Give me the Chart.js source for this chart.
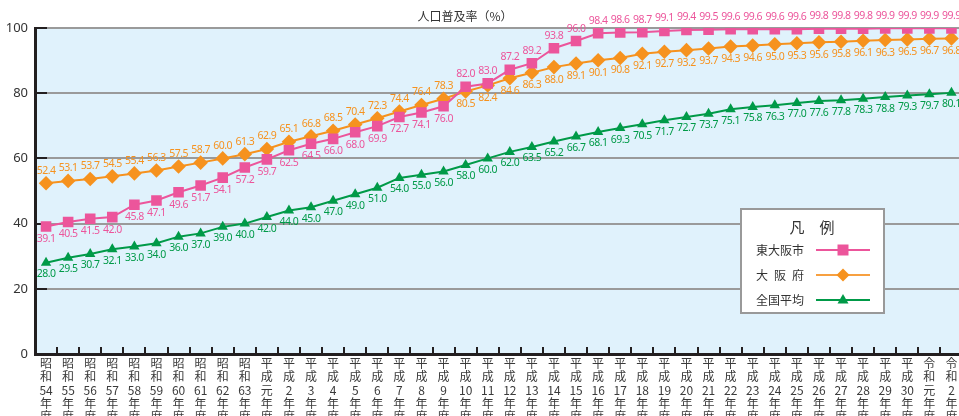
<!DOCTYPE html>
<html><head><meta charset="utf-8">
<script src="https://cdn.jsdelivr.net/npm/chart.js@4/dist/chart.umd.min.js"></script>
<style>
html,body{margin:0;padding:0;overflow:hidden;background:#fff;width:959px;height:416px}
#wrap{position:relative;width:970px;height:416px}
</style></head>
<body><div id="wrap"><canvas id="c" width="970" height="416"></canvas></div>
<script>
const categories = [
  '昭和54年度','昭和55年度','昭和56年度','昭和57年度','昭和58年度','昭和59年度','昭和60年度','昭和61年度','昭和62年度','昭和63年度',
  '平成元年度','平成2年度','平成3年度','平成4年度','平成5年度','平成6年度','平成7年度','平成8年度','平成9年度','平成10年度',
  '平成11年度','平成12年度','平成13年度','平成14年度','平成15年度','平成16年度','平成17年度','平成18年度','平成19年度','平成20年度',
  '平成21年度','平成22年度','平成23年度','平成24年度','平成25年度','平成26年度','平成27年度','平成28年度','平成29年度','平成30年度',
  '令和元年度','令和2年度'
];
const higashiOsaka = [39.1,40.5,41.5,42.0,45.8,47.1,49.6,51.7,54.1,57.2,59.7,62.5,64.5,66.0,68.0,69.9,72.7,74.1,76.0,82.0,83.0,87.2,89.2,93.8,96.0,98.4,98.6,98.7,99.1,99.4,99.5,99.6,99.6,99.6,99.6,99.8,99.8,99.8,99.9,99.9,99.9,99.9];
const osakaFu = [52.4,53.1,53.7,54.5,55.4,56.3,57.5,58.7,60.0,61.3,62.9,65.1,66.8,68.5,70.4,72.3,74.4,76.4,78.3,80.5,82.4,84.6,86.3,88.0,89.1,90.1,90.8,92.1,92.7,93.2,93.7,94.3,94.6,95.0,95.3,95.6,95.8,96.1,96.3,96.5,96.7,96.8];
const national = [28.0,29.5,30.7,32.1,33.0,34.0,36.0,37.0,39.0,40.0,42.0,44.0,45.0,47.0,49.0,51.0,54.0,55.0,56.0,58.0,60.0,62.0,63.5,65.2,66.7,68.1,69.3,70.5,71.7,72.7,73.7,75.1,75.8,76.3,77.0,77.6,77.8,78.3,78.8,79.3,79.7,80.1];
const yTicks = [0,20,40,60,80,100];
const seriesNames = ['東大阪市','大 阪 府','全国平均'];
const chartTitle = '人口普及率（%）';
const legendTitle = '凡　例';

const PINK='#ec559b', ORANGE='#f6921e', GREEN='#009a48';
const CJK='"Noto Sans CJK JP","Noto Sans",sans-serif';

function splitLabel(s){
  const era=s.slice(0,2), rest=s.slice(2,s.length-2);
  return [era[0],era[1],rest,'年','度'];
}
// label placement: true = above the point
const labelAbove = [
  i => i >= 19,
  i => i < 19,
  i => false
];

const bgPlugin = {
  id:'bg',
  beforeDraw(chart){
    const {ctx, chartArea:a} = chart;
    ctx.save();
    ctx.fillStyle='#fff'; ctx.fillRect(0,0,chart.width,chart.height);
    ctx.fillStyle='#e0f2fc'; ctx.fillRect(a.left,a.top,a.right-a.left,a.bottom-a.top);
    ctx.restore();
  },
  beforeDatasetsDraw(chart){
    const {ctx, chartArea:a, scales:{x,y}} = chart;
    ctx.save();
    ctx.strokeStyle='#231f20'; ctx.lineWidth=2;
    ctx.beginPath();
    yTicks.forEach(v=>{ if(v===0) return; const py=Math.round(y.getPixelForValue(v));
      ctx.moveTo(a.left, py); ctx.lineTo(a.left+12, py); });
    for(let i=0;i<categories.length-1;i++){
      const px=Math.round((x.getPixelForValue(i)+x.getPixelForValue(i+1))/2);
      ctx.moveTo(px, a.bottom); ctx.lineTo(px, a.bottom-7);
    }
    ctx.stroke();
    ctx.restore();
  },
  afterDatasetsDraw(chart){
    const ctx=chart.ctx;
    ctx.save();
    ctx.font='10.5px "Noto Sans",sans-serif';
    try{ ctx.letterSpacing='-0.5px'; }catch(e){}
    ctx.textAlign='center'; ctx.textBaseline='middle';
    chart.data.datasets.forEach((ds,di)=>{
      const meta=chart.getDatasetMeta(di);
      ctx.fillStyle=ds.borderColor;
      meta.data.forEach((pt,i)=>{
        const above=labelAbove[di](i);
        const off = di===2 ? 11.5 : 12.5;
        ctx.fillText(ds.data[i].toFixed(1), pt.x, above ? pt.y-off : pt.y+off);
      });
    });
    ctx.restore();
  },
  afterDraw(chart){
    const ctx=chart.ctx;
    ctx.save();
    ctx.fillStyle='#333'; ctx.font='12px '+CJK; ctx.textAlign='center'; ctx.textBaseline='middle';
    ctx.fillText(chartTitle, 465, 16);
    const bx=741, by=209, bw=143, bh=104;
    ctx.fillStyle='#fff'; ctx.fillRect(bx,by,bw,bh);
    ctx.strokeStyle='#999'; ctx.lineWidth=2; ctx.strokeRect(bx,by,bw,bh);
    ctx.fillStyle='#333'; ctx.font='15px '+CJK; ctx.textAlign='center';
    ctx.fillText(legendTitle, 812, 227);
    const rows=[250,275,300];
    const cols=[PINK,'#f7a040',GREEN];
    ctx.font='12px '+CJK; ctx.textAlign='left';
    rows.forEach((ry,k)=>{
      ctx.fillStyle='#333';
      const name=seriesNames[k];
      if(name.indexOf(' ')>=0){
        name.split(' ').forEach((ch,j)=>ctx.fillText(ch, 756+j*18, ry));
      } else ctx.fillText(name, 756, ry);
      ctx.strokeStyle=cols[k]; ctx.lineWidth=2;
      ctx.beginPath(); ctx.moveTo(816,ry); ctx.lineTo(870,ry); ctx.stroke();
      ctx.fillStyle=[PINK,ORANGE,GREEN][k];
      ctx.beginPath();
      if(k===0){ ctx.rect(843-5.5,ry-5.5,11,11); }
      else if(k===1){ ctx.moveTo(843,ry-6.5); ctx.lineTo(849.5,ry); ctx.lineTo(843,ry+6.5); ctx.lineTo(836.5,ry); ctx.closePath(); }
      else { ctx.moveTo(843,ry-6); ctx.lineTo(848.5,ry+3.5); ctx.lineTo(837.5,ry+3.5); ctx.closePath(); }
      ctx.fill();
    });
    ctx.restore();
  }
};

new Chart(document.getElementById('c'), {
  type:'line',
  data:{
    labels: categories.map(splitLabel),
    datasets:[
      {label:seriesNames[0], data:higashiOsaka, borderColor:PINK, backgroundColor:PINK, borderWidth:2, pointStyle:'rect', pointRadius:7.5, pointBorderWidth:0, tension:0},
      {label:seriesNames[1], data:osakaFu, borderColor:ORANGE, backgroundColor:ORANGE, borderWidth:2, pointStyle:'rectRot', pointRadius:7.3, pointBorderWidth:0, tension:0},
      {label:seriesNames[2], data:national, borderColor:GREEN, backgroundColor:GREEN, borderWidth:2, pointStyle:'triangle', pointRadius:6, pointBorderWidth:0, tension:0}
    ]
  },
  options:{
    responsive:false, animation:false, devicePixelRatio:1,
    layout:{padding:{top:28,right:7,left:0,bottom:0}},
    plugins:{legend:{display:false}, title:{display:false}, tooltip:{enabled:false}},
    scales:{
      x:{
        type:'category', offset:true,
        grid:{display:false, drawTicks:false},
        border:{display:true, color:'#231f20', width:3},
        ticks:{autoSkip:false, maxRotation:0, minRotation:0, padding:3, color:'#3a3a3a',
          font:{family:CJK, size:12, lineHeight:1.1}},
        afterFit(s){ s.height=62; }
      },
      y:{
        min:0, max:100,
        afterBuildTicks(s){ s.ticks = yTicks.map(v=>({value:v})); },
        grid:{drawTicks:false, lineWidth:2, color:c=> (c.tick && c.tick.value===0) ? 'rgba(0,0,0,0)' : '#9a9a9a'},
        border:{display:true, color:'#231f20', width:3},
        ticks:{padding:7, color:'#333', font:{family:'"Noto Sans",sans-serif', size:13}},
        afterFit(s){ s.width=35; }
      }
    }
  },
  plugins:[bgPlugin]
});
</script>
</body></html>
